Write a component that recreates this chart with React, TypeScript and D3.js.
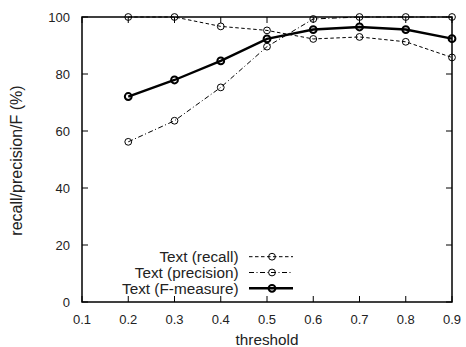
import { useEffect, useRef } from 'react'
import * as d3 from 'd3'

const thresholds = [0.2, 0.3, 0.4, 0.5, 0.6, 0.7, 0.8, 0.9]
const recall = [100, 100, 96.7, 95.3, 92.3, 93, 91.3, 85.8]
const precision = [56.2, 63.6, 75.3, 89.6, 99.3, 100, 100, 100]
const fMeasure = [72.1, 77.9, 84.6, 92.3, 95.6, 96.5, 95.6, 92.4]
const xTicks = [0.1, 0.2, 0.3, 0.4, 0.5, 0.6, 0.7, 0.8, 0.9]
const yTicks = [0, 20, 40, 60, 80, 100]

const seriesList = [
  { name: 'Text (recall)', values: recall, dash: '3.5,2.5', width: 1, markerWidth: 1 },
  { name: 'Text (precision)', values: precision, dash: '5,2.5,1,2.5', width: 1, markerWidth: 1 },
  { name: 'Text (F-measure)', values: fMeasure, dash: null, width: 2.4, markerWidth: 2 },
]

export default function App() {
  const svgRef = useRef<SVGSVGElement>(null)

  useEffect(() => {
    if (!svgRef.current) return
    const svg = d3.select(svgRef.current)
    svg.selectAll('*').remove()

    const width = 466
    const height = 347
    const margin = { top: 17, right: 14, bottom: 45, left: 82 }
    const iw = width - margin.left - margin.right
    const ih = height - margin.top - margin.bottom
    const font = 'Liberation Sans, Arial, sans-serif'
    const numSize = 13
    const textSize = 15.3

    svg.attr('width', width).attr('height', height)

    const g = svg.append('g').attr('transform', `translate(${margin.left},${margin.top})`)

    const x = d3.scaleLinear().domain([0.1, 0.9]).range([0, iw])
    const y = d3.scaleLinear().domain([0, 100]).range([ih, 0])

    // Frame
    g.append('rect')
      .attr('x', 0)
      .attr('y', 0)
      .attr('width', iw)
      .attr('height', ih)
      .attr('fill', 'none')
      .attr('stroke', '#000')
      .attr('stroke-width', 1.5)

    const tl = 6
    // x ticks (bottom + mirrored top)
    xTicks.forEach((t) => {
      g.append('line').attr('x1', x(t)).attr('x2', x(t)).attr('y1', ih).attr('y2', ih - tl).attr('stroke', '#000')
      g.append('line').attr('x1', x(t)).attr('x2', x(t)).attr('y1', 0).attr('y2', tl).attr('stroke', '#000')
      g.append('text')
        .attr('x', x(t))
        .attr('y', ih + 21.5)
        .attr('text-anchor', 'middle')
        .attr('font-family', font)
        .attr('font-size', numSize)
        .attr('fill', '#222')
        .text(d3.format('.1f')(t))
    })

    // y ticks (left + mirrored right)
    yTicks.forEach((t) => {
      g.append('line').attr('x1', 0).attr('x2', tl).attr('y1', y(t)).attr('y2', y(t)).attr('stroke', '#000')
      g.append('line').attr('x1', iw).attr('x2', iw - tl).attr('y1', y(t)).attr('y2', y(t)).attr('stroke', '#000')
      g.append('text')
        .attr('x', -12)
        .attr('y', y(t) + 4.7)
        .attr('text-anchor', 'end')
        .attr('font-family', font)
        .attr('font-size', numSize)
        .attr('fill', '#222')
        .text(t)
    })

    // Axis labels
    g.append('text')
      .attr('x', iw / 2)
      .attr('y', ih + 42.5)
      .attr('text-anchor', 'middle')
      .attr('font-family', font)
      .attr('font-size', textSize)
      .attr('fill', '#222')
      .text('threshold')

    g.append('text')
      .attr('transform', `translate(${-margin.left + 22},${ih / 2 + 1}) rotate(-90)`)
      .attr('text-anchor', 'middle')
      .attr('font-family', font)
      .attr('font-size', 16)
      .attr('fill', '#222')
      .text('recall/precision/F (%)')

    const line = d3
      .line<number>()
      .x((_, i) => x(thresholds[i]))
      .y((d) => y(d))

    seriesList.forEach((s, si) => {
      g.append('path')
        .datum(s.values)
        .attr('fill', 'none')
        .attr('stroke', '#000')
        .attr('stroke-width', s.width)
        .attr('stroke-dasharray', s.dash)
        .attr('d', line)

      g.selectAll(null)
        .data(s.values)
        .enter()
        .append('circle')
        .attr('cx', (_, i) => x(thresholds[i]))
        .attr('cy', (d) => y(d))
        .attr('r', 3.4)
        .attr('fill', 'none')
        .attr('stroke', '#000')
        .attr('stroke-width', s.markerWidth)

      // Legend
      const ly = ih - 45.3 + si * 15.8
      g.append('text')
        .attr('x', 156.5)
        .attr('y', ly + 5.4)
        .attr('text-anchor', 'end')
        .attr('font-family', font)
        .attr('font-size', textSize)
        .attr('fill', '#222')
        .text(s.name)
      g.append('line')
        .attr('x1', 167)
        .attr('x2', 211)
        .attr('y1', ly)
        .attr('y2', ly)
        .attr('stroke', '#000')
        .attr('stroke-width', s.width)
        .attr('stroke-dasharray', s.dash)
      g.append('circle')
        .attr('cx', 190)
        .attr('cy', ly)
        .attr('r', 3.4)
        .attr('fill', 'none')
        .attr('stroke', '#000')
        .attr('stroke-width', s.markerWidth)
    })
  }, [])

  return (
    <svg
      ref={svgRef}
      style={{ position: 'absolute', left: 0, top: 0, background: '#fff' }}
    ></svg>
  )
}
